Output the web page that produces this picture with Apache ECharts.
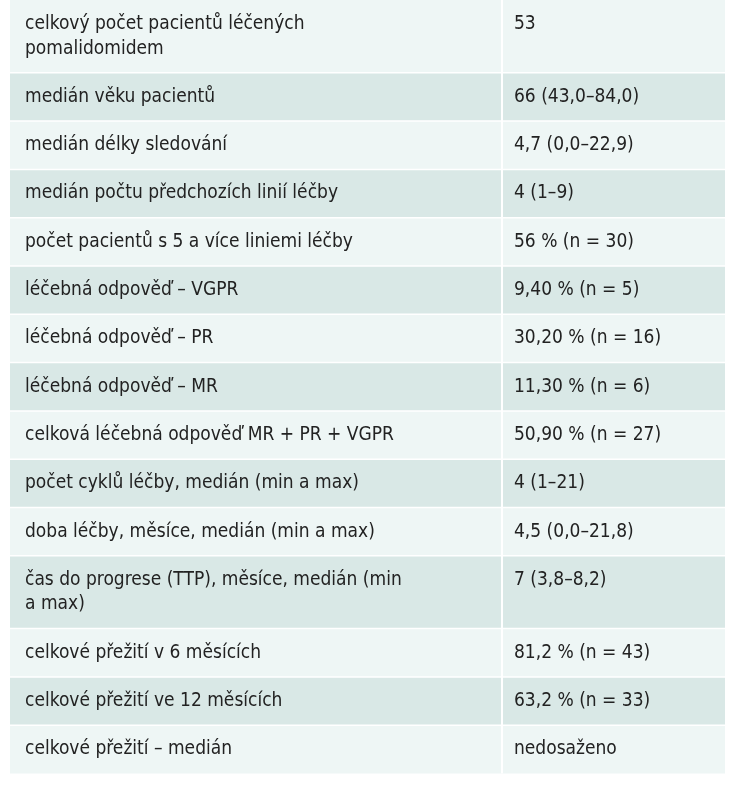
<!DOCTYPE html>
<html>
<head>
<meta charset="utf-8">
<script src="https://cdn.jsdelivr.net/npm/echarts@6/dist/echarts.min.js"></script>
<style>html,body{margin:0;padding:0;background:#fff}#main{width:735px;height:800px}</style>
</head>
<body>
<div id="main"></div>
<script>
// parametry a hodnoty tabulky
var labels = [
    'celkový počet pacientů léčených\npomalidomidem',
    'medián věku pacientů',
    'medián délky sledování',
    'medián počtu předchozích linií léčby',
    'počet pacientů s 5 a více liniemi léčby',
    'léčebná odpověď – VGPR',
    'léčebná odpověď – PR',
    'léčebná odpověď – MR',
    'celková léčebná odpověď MR + PR + VGPR',
    'počet cyklů léčby, medián (min a max)',
    'doba léčby, měsíce, medián (min a max)',
    'čas do progrese (TTP), měsíce, medián (min\na max)',
    'celkové přežití v 6 měsících',
    'celkové přežití ve 12 měsících',
    'celkové přežití – medián'
];
var values = [
    '53',
    '66 (43,0–84,0)',
    '4,7 (0,0–22,9)',
    '4 (1–9)',
    '56 % (n = 30)',
    '9,40 % (n = 5)',
    '30,20 % (n = 16)',
    '11,30 % (n = 6)',
    '50,90 % (n = 27)',
    '4 (1–21)',
    '4,5 (0,0–21,8)',
    '7 (3,8–8,2)',
    '81,2 % (n = 43)',
    '63,2 % (n = 33)',
    'nedosaženo'
];

(function () {
    var x0 = 10, x1 = 725, splitX = 502, y0 = 0;
    var rowH = 48.3, lineH = 24.5;
    var font = '"Liberation Sans Narrow", "DejaVu Sans Condensed", sans-serif';

    var els = [];
    var y = y0;
    labels.forEach(function (lab, i) {
        var lines = lab.split('\n').length;
        var h = lines > 1 ? rowH + lineH : rowH;
        var fill = i % 2 === 0 ? '#eef6f5' : '#d9e8e6';
        els.push({ type: 'rect', shape: { x: x0, y: y, width: x1 - x0, height: h }, style: { fill: fill } });
        var ty = lines > 1 ? y + 12 : y + h / 2 - lineH / 2;
        els.push({ type: 'text', x: 25, y: ty, style: { text: lab, font: '19px ' + font, fill: '#222', lineHeight: lineH, verticalAlign: 'top' } });
        els.push({ type: 'text', x: splitX + 12, y: ty, style: { text: values[i], font: '19px ' + font, fill: '#222', lineHeight: lineH, verticalAlign: 'top' } });
        if (i > 0) els.push({ type: 'line', shape: { x1: x0, y1: y, x2: x1, y2: y }, style: { stroke: '#fff', lineWidth: 1.5 } });
        y += h;
    });
    els.push({ type: 'line', shape: { x1: splitX, y1: y0, x2: splitX, y2: y }, style: { stroke: '#fff', lineWidth: 2 } });

    var chart = echarts.init(document.getElementById('main'));
    chart.setOption({ graphic: { elements: els } });
})();
</script>
</body>
</html>
